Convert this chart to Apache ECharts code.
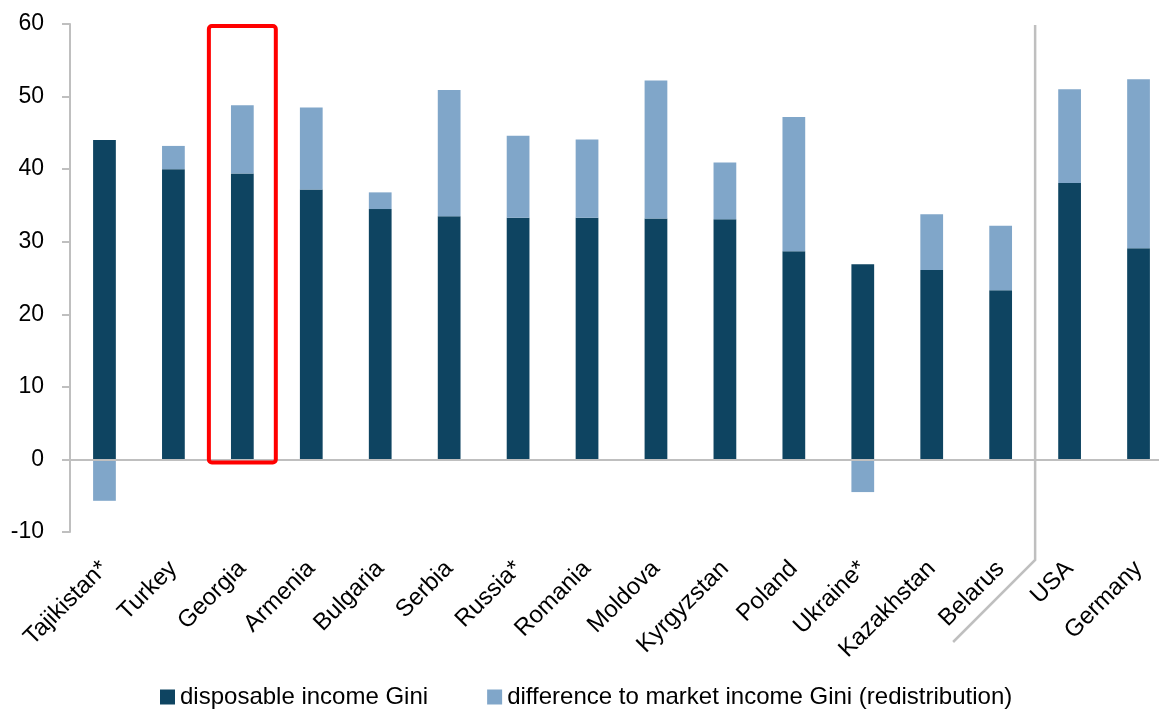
<!DOCTYPE html>
<html>
<head>
<meta charset="utf-8">
<script src="https://cdn.jsdelivr.net/npm/echarts@6/dist/echarts.min.js"></script>
<style>
  html, body { margin: 0; padding: 0; background: #fff; }
  #chart { width: 1159px; height: 711px; }
</style>
</head>
<body>
<div id="chart"></div>
<script>
const countries = ['Tajikistan*', 'Turkey', 'Georgia', 'Armenia', 'Bulgaria', 'Serbia', 'Russia*', 'Romania',
  'Moldova', 'Kyrgyzstan', 'Poland', 'Ukraine*', 'Kazakhstan', 'Belarus', 'USA', 'Germany'];
const disposableGini = [44.0, 40.0, 39.4, 37.2, 34.5, 33.5, 33.3, 33.3, 33.2, 33.1, 28.7, 26.9, 26.1, 23.3, 38.1, 29.1];
const redistribution = [-5.7, 3.2, 9.4, 11.3, 2.3, 17.4, 11.3, 10.8, 19.0, 7.8, 18.5, -4.5, 7.7, 8.9, 12.9, 23.3];
const yTicks = { min: -10, max: 60, step: 10 };
const highlighted = 'Georgia';
const splitAfter = 'Belarus';

const DARK = '#0e4461';
const LIGHT = '#80a6c9';
const GREY = '#bfbfbf';
const FONT = 'Liberation Sans';

const chart = echarts.init(document.getElementById('chart'), null, { renderer: 'canvas' });

chart.setOption({
  animation: false,
  textStyle: { fontFamily: FONT },
  grid: { left: 70, top: 24, width: 1103, height: 508, containLabel: false, outerBoundsMode: 'none' },
  legend: {
    top: 685,
    left: 160,
    padding: 0,
    itemWidth: 15,
    itemHeight: 15,
    itemGap: 59,
    icon: 'rect',
    textStyle: { fontFamily: FONT, fontSize: 24, color: '#000' },
    data: ['disposable income Gini', 'difference to market income Gini (redistribution)'],
  },
  xAxis: {
    type: 'category',
    data: countries,
    axisLine: { onZero: false, show: false },
    axisTick: { show: false },
    axisLabel: { interval: 0, rotate: 45, margin: 33, fontSize: 24, color: '#000', fontFamily: FONT },
  },
  yAxis: {
    type: 'value',
    min: yTicks.min,
    max: yTicks.max,
    interval: yTicks.step,
    axisLine: { show: true, lineStyle: { color: GREY, width: 2 } },
    axisTick: { show: true, length: 8, lineStyle: { color: GREY, width: 2 } },
    splitLine: { show: false },
    axisLabel: { fontSize: 23, color: '#000', margin: 26, fontFamily: FONT },
  },
  series: [
    {
      name: 'disposable income Gini',
      type: 'bar',
      stack: 'gini',
      barWidth: '33%',
      data: disposableGini,
      itemStyle: { color: DARK },
      markLine: {
        silent: true,
        symbol: 'none',
        label: { show: false },
        lineStyle: { color: GREY, width: 2, type: 'solid' },
        data: [{ yAxis: 0 }],
      },
    },
    {
      name: 'difference to market income Gini (redistribution)',
      type: 'bar',
      stack: 'gini',
      barWidth: '33%',
      data: redistribution,
      itemStyle: { color: LIGHT },
    },
  ],
});

// annotations: red box around the highlighted country, grey divider before USA
const step = chart.convertToPixel({ xAxisIndex: 0 }, countries[1]) - chart.convertToPixel({ xAxisIndex: 0 }, countries[0]);
const hx = chart.convertToPixel({ xAxisIndex: 0 }, highlighted);
const yTop = chart.convertToPixel({ yAxisIndex: 0 }, yTicks.max);
const yZero = chart.convertToPixel({ yAxisIndex: 0 }, 0);
const divX = chart.convertToPixel({ xAxisIndex: 0 }, splitAfter) + step / 2;

chart.setOption({
  graphic: [
    {
      type: 'rect',
      shape: { x: hx - step / 2 + 1, y: yTop + 2, width: step - 2, height: yZero - yTop + 1, r: 3 },
      style: { fill: 'none', stroke: '#ff0000', lineWidth: 4 },
      z: 100,
    },
    {
      type: 'polyline',
      shape: { points: [[divX, yTop + 1], [divX, 560], [divX - 82, 642]] },
      style: { fill: 'none', stroke: GREY, lineWidth: 2.5 },
      z: 100,
    },
  ],
});
</script>
</body>
</html>
